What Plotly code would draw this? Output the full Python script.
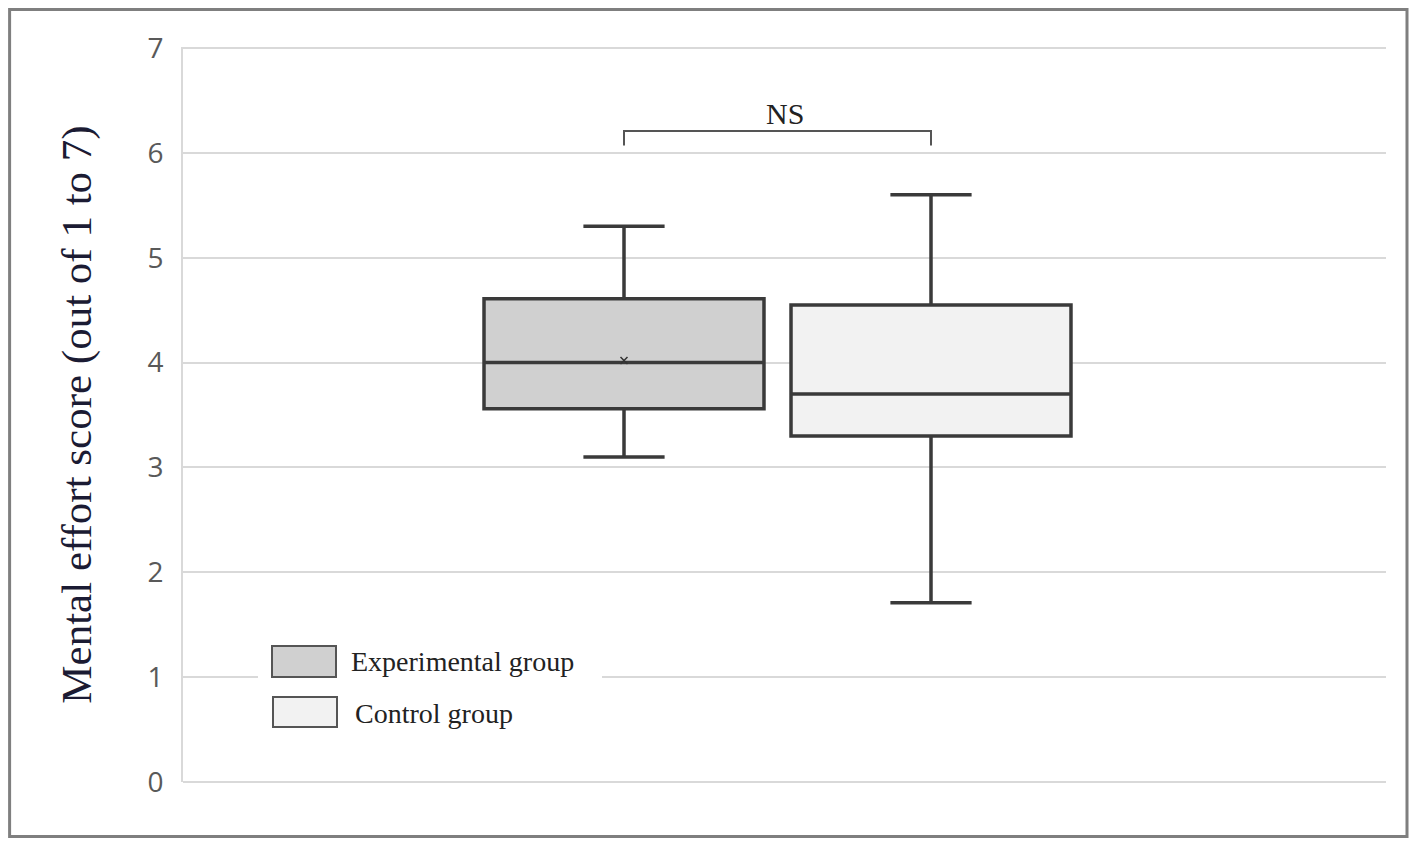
import plotly.graph_objects as go

# ---- data ----
groups = ["Experimental group", "Control group"]
positions = [1, 2]
q1_vals = [3.56, 3.30]
median_vals = [4.00, 3.70]
q3_vals = [4.61, 4.55]
lower_whisker = [3.10, 1.71]
upper_whisker = [5.30, 5.60]
mean_vals = [4.02, None]
fill_colors = ["#d0d0d0", "#f2f2f2"]
y_ticks = [0, 1, 2, 3, 4, 5, 6, 7]
sig_label = "NS"

fig = go.Figure()
for i, g in enumerate(groups):
    fig.add_trace(go.Box(
        name=g,
        x=[positions[i]],
        q1=[q1_vals[i]],
        median=[median_vals[i]],
        q3=[q3_vals[i]],
        lowerfence=[lower_whisker[i]],
        upperfence=[upper_whisker[i]],
        width=0.912,
        whiskerwidth=0.29,
        fillcolor=fill_colors[i],
        line=dict(color="#3a3a3a", width=3.5),
        showlegend=False,
        hoverinfo="skip",
    ))

# mean marker (only visible for experimental group in reference)
mx = [positions[i] for i in range(len(groups)) if mean_vals[i] is not None]
my = [mean_vals[i] for i in range(len(groups)) if mean_vals[i] is not None]
fig.add_trace(go.Scatter(
    x=mx, y=my, mode="markers",
    marker=dict(symbol="x-thin", size=7, line=dict(color="#333333", width=1.5)),
    showlegend=False, hoverinfo="skip",
))

# page is offset by the 8px body margin
OFF = 8
L, R, T, B = 183 - OFF, 1386 - OFF, 47 - OFF, 782 - OFF
Y_TOP = 7.01

def px(x):
    return (x - OFF - L) / (R - L)
def py(y):
    return (B - (y - OFF)) / (B - T)

shapes = []
# significance bracket
y_br, y_br_end = 6.21, 6.07
shapes.append(dict(type="path", xref="x", yref="y",
                   path=f"M {positions[0]},{y_br_end} L {positions[0]},{y_br} L {positions[1]},{y_br} L {positions[1]},{y_br_end}",
                   line=dict(color="#555555", width=2)))

# legend background (hides gridline)
shapes.append(dict(type="rect", xref="paper", yref="paper", layer="above",
                   x0=px(258), x1=px(602), y0=py(740), y1=py(636),
                   fillcolor="white", line=dict(width=0)))
# legend swatches
shapes.append(dict(type="rect", xref="paper", yref="paper", layer="above",
                   x0=px(272), x1=px(336), y0=py(677), y1=py(646),
                   fillcolor=fill_colors[0], line=dict(color="#555555", width=2)))
shapes.append(dict(type="rect", xref="paper", yref="paper", layer="above",
                   x0=px(273), x1=px(337), y0=py(727), y1=py(697),
                   fillcolor=fill_colors[1], line=dict(color="#555555", width=2)))
# outer frame
shapes.append(dict(type="rect", xref="paper", yref="paper", layer="above",
                   x0=px(9.6), x1=px(1407), y0=py(836.5), y1=py(9.6),
                   fillcolor="rgba(0,0,0,0)", line=dict(color="#7f7f7f", width=3)))

annotations = [
    dict(text=sig_label, x=1.525, y=6.38, xref="x", yref="y", showarrow=False,
         font=dict(family="Liberation Serif", size=30, color="#222222")),
    dict(text=groups[0], x=px(349), y=py(661), xref="paper", yref="paper",
         xanchor="left", yanchor="middle", showarrow=False,
         font=dict(family="Liberation Serif", size=28, color="#222222")),
    dict(text=groups[1], x=px(353), y=py(713), xref="paper", yref="paper",
         xanchor="left", yanchor="middle", showarrow=False,
         font=dict(family="Liberation Serif", size=28, color="#222222")),
]

fig.update_layout(
    width=1418, height=846,
    margin=dict(l=L, r=1418 - R, t=T, b=846 - B),
    paper_bgcolor="white", plot_bgcolor="white",
    shapes=shapes, annotations=annotations,
    xaxis=dict(range=[-0.4365, 3.4821], showgrid=False, zeroline=False,
               showticklabels=False, showline=False, ticks=""),
    yaxis=dict(range=[0, Y_TOP], tickvals=y_ticks, showgrid=True, gridcolor="#d9d9d9",
               gridwidth=2, zeroline=True, zerolinecolor="#d9d9d9", zerolinewidth=2,
               showline=True, linecolor="#d9d9d9", linewidth=2,
               ticks="", ticklabelstandoff=12,
               tickfont=dict(family="Open Sans", size=28, color="#595959"),
               title=dict(text="Mental effort score (out of 1 to 7)", standoff=42,
                          font=dict(family="Liberation Serif", size=43, color="#1b1b33"))),
)

fig.write_html("out.html")
